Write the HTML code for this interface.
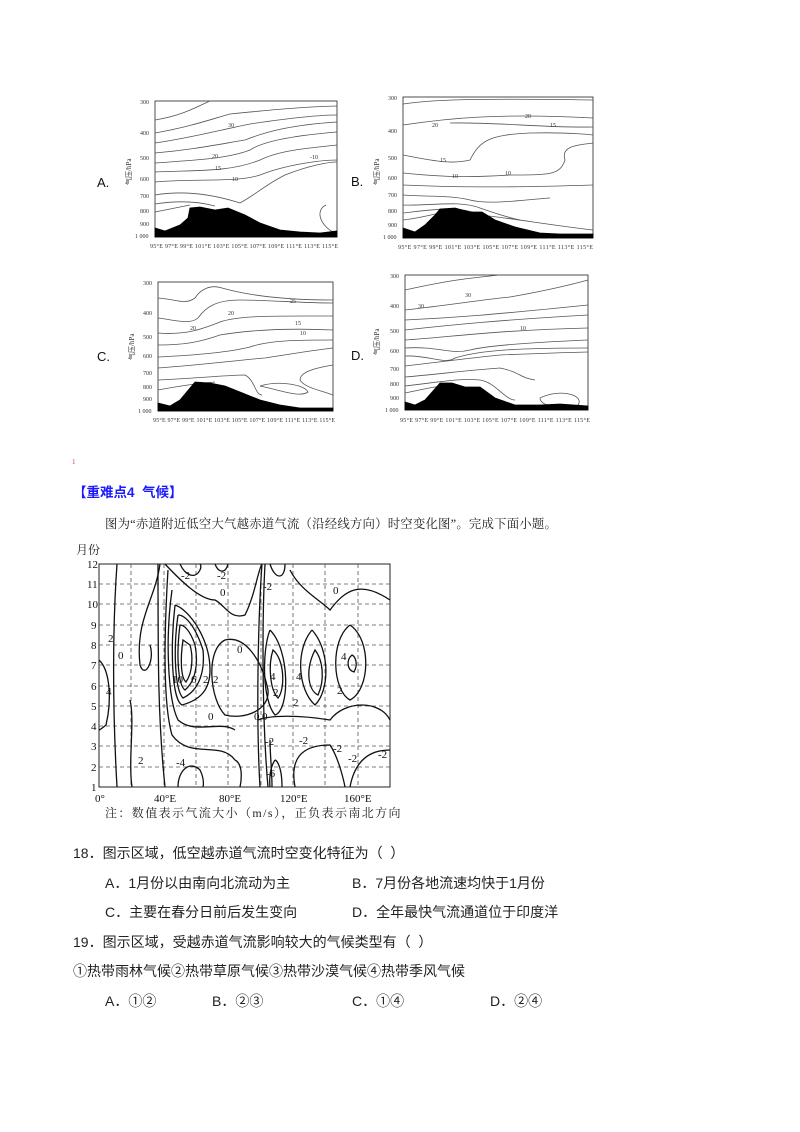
<!DOCTYPE html>
<html><head><meta charset="utf-8"><style>
body{margin:0;background:#fff;width:800px;height:1132px;position:relative;overflow:hidden;font-family:"Liberation Serif","Noto Serif CJK SC",serif;color:#222}
.t{position:absolute;white-space:nowrap;font-size:13px}
.q{font-size:14px;font-family:'Liberation Sans','Noto Sans CJK SC',sans-serif}
svg{position:absolute;left:0;top:0}
</style></head><body>
<svg width="800" height="1132" viewBox="0 0 800 1132" font-family="Liberation Serif, serif">
<g fill="none" stroke="#555" stroke-width="0.8">
<rect x="155" y="101" width="182" height="136" stroke="#222"/>
<path d="M155 120 C185 115 200 105 210 101"/>
<path d="M155 133 C190 127 215 118 230 114 C270 110 300 107 337 106"/>
<path d="M155 143 C190 138 220 130 250 124 C290 118 320 115 337 115"/>
<path d="M155 153 C190 150 215 145 245 140 C265 132 290 125 337 122"/>
<path d="M155 163 C200 160 230 158 250 150 C265 140 300 135 337 132"/>
<path d="M155 172 C200 170 230 172 260 160 C280 150 310 148 337 145"/>
<path d="M155 182 C200 178 235 183 260 175 C285 165 320 160 337 160"/>
<path d="M155 195 C185 190 215 195 240 203 C255 195 265 185 285 175 C310 165 330 162 337 162"/>
<path d="M155 204 C180 200 200 202 215 206"/>
<path d="M155 212 C175 208 185 206 190 205"/>
<path d="M326 205 C315 210 320 225 333 232"/>
<polygon fill="#000" stroke="#000" points="155,228 165,231 180,225 188,218 190,208 200,207 215,210 228,208 245,215 260,223 280,230 300,232 320,233 337,231 337,237 155,237"/>
<rect x="403" y="97" width="190" height="141" stroke="#222"/>
<path d="M403 104 C430 100 470 98 593 100"/>
<path d="M403 125 C450 118 500 113 593 118"/>
<path d="M450 123 C500 122 540 128 593 127"/>
<path d="M403 155 C430 160 450 165 470 160 C480 140 490 135 530 133 C570 132 593 135 593 135"/>
<path d="M403 173 C450 178 480 177 510 175 C550 175 560 175 565 160 C560 145 580 145 593 143"/>
<path d="M403 185 C450 187 500 188 593 185"/>
<path d="M403 195 C430 197 450 195 470 200 C490 205 520 200 550 198"/>
<path d="M403 205 C430 206 460 200 480 208 C500 215 510 218 520 220"/>
<path d="M403 213 C430 210 460 205 480 215 C510 218 550 225 593 230"/>
<path d="M403 220 C420 218 430 215 440 213"/>
<polygon fill="#000" stroke="#000" points="403,228 415,232 425,225 435,215 440,209 455,208 470,212 482,212 495,220 515,227 540,233 560,234 593,234 593,238 403,238"/>
<rect x="158" y="282" width="175" height="129" stroke="#222"/>
<path d="M158 298 C180 300 185 305 195 298 C200 290 210 284 222 288 C250 296 290 300 333 300"/>
<path d="M158 318 C175 320 190 325 198 318 C205 308 215 300 240 300 C270 300 300 303 333 303"/>
<path d="M158 333 C185 335 200 330 220 322 C240 315 280 316 333 316"/>
<path d="M158 345 C185 345 200 342 220 335 C250 330 290 328 333 330"/>
<path d="M158 357 C200 355 230 352 250 347 C270 340 300 340 333 340"/>
<path d="M158 368 C200 365 240 360 265 358 C290 354 315 350 333 348"/>
<path d="M158 380 C200 378 230 375 245 375 C255 380 255 395 262 395"/>
<path d="M158 390 C185 385 200 383 215 382"/>
<path d="M260 386 C280 390 300 398 308 392 C305 385 280 380 260 386"/>
<path d="M333 365 C315 368 300 372 300 380 C305 388 320 390 333 395"/>
<polygon fill="#000" stroke="#000" points="158,403 170,406 180,400 195,382 210,383 225,386 240,392 260,400 280,405 300,408 333,408 333,411 158,411"/>
<rect x="405" y="275" width="183" height="135" stroke="#222"/>
<path d="M405 290 C450 280 470 278 500 275"/>
<path d="M405 310 C450 305 480 300 510 297 C550 290 570 285 588 280"/>
<path d="M405 320 C450 318 490 315 588 305"/>
<path d="M405 330 C450 325 500 320 588 315"/>
<path d="M405 340 C450 337 500 330 588 328"/>
<path d="M405 348 C440 346 450 355 470 350 C490 345 540 342 588 340"/>
<path d="M405 356 C430 355 445 365 455 358 C480 350 520 348 588 348"/>
<path d="M405 366 C440 362 470 358 500 355 C550 353 588 352 588 352"/>
<path d="M405 377 C440 374 470 370 500 368 C520 372 520 378 535 380"/>
<path d="M405 386 C440 382 460 378 480 380 C495 382 505 400 515 400"/>
<path d="M405 393 C420 390 435 386 445 386"/>
<path d="M540 398 C560 388 585 395 578 405 C560 410 540 406 540 398"/>
<polygon fill="#000" stroke="#000" points="405,402 415,405 425,400 440,383 452,383 465,387 480,387 495,398 515,405 540,405 560,404 588,406 588,410 405,410"/>
</g>
<g font-size="6" fill="#333">
<text x="140" y="104">300</text><text x="140" y="135">400</text><text x="140" y="160">500</text><text x="140" y="181">600</text><text x="140" y="198">700</text><text x="140" y="213">800</text><text x="140" y="226">900</text><text x="135" y="238">1 000</text>
<text x="150" y="248" textLength="188">95°E 97°E 99°E 101°E 103°E 105°E 107°E 109°E 111°E 113°E 115°E</text>
<text x="388" y="100">300</text><text x="388" y="133">400</text><text x="388" y="160">500</text><text x="388" y="180">600</text><text x="388" y="197">700</text><text x="388" y="213">800</text><text x="388" y="227">900</text><text x="383" y="239">1 000</text>
<text x="398" y="249" textLength="195">95°E 97°E 99°E 101°E 103°E 105°E 107°E 109°E 111°E 113°E 115°E</text>
<text x="143" y="285">300</text><text x="143" y="315">400</text><text x="143" y="339">500</text><text x="143" y="358">600</text><text x="143" y="375">700</text><text x="143" y="389">800</text><text x="143" y="401">900</text><text x="138" y="413">1 000</text>
<text x="153" y="422" textLength="182">95°E 97°E 99°E 101°E 103°E 105°E 107°E 109°E 111°E 113°E 115°E</text>
<text x="390" y="278">300</text><text x="390" y="308">400</text><text x="390" y="333">500</text><text x="390" y="353">600</text><text x="390" y="371">700</text><text x="390" y="386">800</text><text x="390" y="400">900</text><text x="385" y="412">1 000</text>
<text x="400" y="422" textLength="190">95°E 97°E 99°E 101°E 103°E 105°E 107°E 109°E 111°E 113°E 115°E</text>
<text x="228" y="127">30</text><text x="212" y="158">20</text><text x="215" y="170">15</text><text x="232" y="181">10</text><text x="310" y="159">-10</text>
<text x="432" y="127">20</text><text x="525" y="118">20</text><text x="550" y="127">15</text><text x="440" y="162">15</text><text x="452" y="178">10</text><text x="505" y="175">10</text>
<text x="290" y="303">25</text><text x="228" y="315">20</text><text x="190" y="330">20</text><text x="295" y="325">15</text><text x="300" y="335">10</text>
<text x="465" y="297">30</text><text x="418" y="308">30</text><text x="520" y="330">10</text>
</g>
<g font-size="7" fill="#333" transform="rotate(-90)"><text x="-185" y="131">气压/hPa</text><text x="-185" y="379">气压/hPa</text><text x="-360" y="134">气压/hPa</text><text x="-355" y="379">气压/hPa</text></g>
<g font-family="Liberation Sans, sans-serif" font-size="13" fill="#111"><text x="97" y="187">A.</text><text x="351" y="186">B.</text><text x="97" y="361">C.</text><text x="351" y="360">D.</text></g>

<rect x="99" y="564" width="291" height="223" fill="none" stroke="#222" stroke-width="1"/>
<g stroke="#555" stroke-width="0.8" stroke-dasharray="4,3">
<line x1="131" y1="564" x2="131" y2="787"/><line x1="164" y1="564" x2="164" y2="787"/><line x1="196" y1="564" x2="196" y2="787"/><line x1="228" y1="564" x2="228" y2="787"/><line x1="261" y1="564" x2="261" y2="787"/><line x1="293" y1="564" x2="293" y2="787"/><line x1="325" y1="564" x2="325" y2="787"/><line x1="358" y1="564" x2="358" y2="787"/>
<line x1="99" y1="584" x2="390" y2="584"/><line x1="99" y1="604" x2="390" y2="604"/><line x1="99" y1="625" x2="390" y2="625"/><line x1="99" y1="645" x2="390" y2="645"/><line x1="99" y1="665" x2="390" y2="665"/><line x1="99" y1="686" x2="390" y2="686"/><line x1="99" y1="706" x2="390" y2="706"/><line x1="99" y1="726" x2="390" y2="726"/><line x1="99" y1="746" x2="390" y2="746"/><line x1="99" y1="767" x2="390" y2="767"/>
</g>
<g fill="none" stroke="#111" stroke-width="1.3">
<path d="M117 564 C113 620 112 700 117 787"/>
<path d="M99 660 C110 670 112 700 106 725 C100 730 99 730 99 730"/>
<path d="M160 564 C155 600 135 620 140 665 C145 680 155 660 150 645"/>
<path d="M132 787 C128 760 135 720 130 700"/>
<path d="M158 564 C158 660 158 720 165 787"/>
<path d="M168 570 C165 620 162 700 172 735 C190 760 220 740 235 760 C245 765 240 787 240 787"/>
<path d="M172 590 C165 640 168 700 178 720 C195 735 220 720 235 730"/>
<path d="M175 605 C170 650 172 700 182 705 C200 700 210 690 210 670 C210 640 190 610 175 605"/>
<path d="M178 615 C173 650 175 690 183 698 C200 690 205 670 203 650 C195 625 185 615 178 615"/>
<path d="M180 625 C176 655 178 685 185 690 C197 680 198 660 195 645 C190 630 184 625 180 625"/>
<path d="M183 640 C180 660 181 678 186 682 C193 672 193 655 190 645 Z"/>
<path d="M165 564 C180 580 200 600 215 600 C225 605 230 620 245 615 C255 595 258 570 262 564"/>
<path d="M180 564 C185 575 195 580 200 570 C202 566 200 564 200 564"/>
<path d="M215 564 C218 572 225 575 228 564"/>
<path d="M262 564 C258 620 256 720 260 787"/>
<path d="M265 564 C262 620 262 720 268 787"/>
<path d="M270 564 C275 580 285 580 285 564"/>
<path d="M258 720 C270 715 300 715 330 720 C345 700 380 700 390 720"/>
<path d="M225 640 C205 650 210 700 225 715 C245 720 270 710 268 690 C262 660 245 635 225 640"/>
<path d="M270 630 C262 650 262 700 275 715 C290 710 290 650 270 630"/>
<path d="M273 650 C268 665 270 690 278 698 C285 690 285 660 273 650 Z"/>
<path d="M312 630 C295 650 298 690 315 705 C330 690 330 650 312 630"/>
<path d="M315 650 C305 670 308 690 318 695 C325 680 323 660 315 650 Z"/>
<path d="M350 625 C330 640 332 690 350 700 C370 690 372 640 350 625"/>
<path d="M352 655 C346 660 347 670 354 672 C358 665 356 657 352 655 Z"/>
<path d="M290 570 C300 590 320 600 330 610 C345 590 360 580 390 600"/>
<path d="M270 740 C270 755 272 770 272 787"/>
<path d="M275 760 C268 770 270 787 270 787 M282 787 C282 765 276 760 275 760"/>
<path d="M295 787 C290 760 300 745 330 745 C340 760 345 787 345 787"/>
<path d="M350 787 C355 760 370 750 390 750"/>
<path d="M178 787 C178 770 190 760 200 770 C205 780 203 787 203 787"/>
</g>
<g font-size="11" fill="#111">
<text x="87" y="568">12</text><text x="87" y="588">11</text><text x="87" y="608">10</text><text x="91" y="629">9</text><text x="91" y="649">8</text><text x="91" y="669">7</text><text x="91" y="690">6</text><text x="91" y="710">5</text><text x="91" y="730">4</text><text x="91" y="750">3</text><text x="91" y="771">2</text><text x="91" y="791">1</text>
<text x="95" y="802">0°</text><text x="154" y="802">40°E</text><text x="219" y="802">80°E</text><text x="280" y="802">120°E</text><text x="344" y="802">160°E</text>
<text x="181" y="579">-2</text><text x="217" y="579">-2</text><text x="220" y="596">0</text><text x="263" y="590">-2</text><text x="333" y="594">0</text>
<text x="108" y="642">2</text><text x="118" y="659">0</text><text x="106" y="695">4</text>
<text x="172" y="683">10</text><text x="191" y="683">6</text><text x="203" y="683">2</text><text x="213" y="683">2</text>
<text x="237" y="653">0</text><text x="208" y="720">0</text><text x="254" y="720">0</text><text x="262" y="720">0</text>
<text x="270" y="680">4</text><text x="273" y="696">2</text><text x="296" y="680">4</text><text x="293" y="706">2</text>
<text x="341" y="660">4</text><text x="337" y="694">2</text>
<text x="265" y="745">-2</text><text x="299" y="744">-2</text><text x="333" y="752">-2</text><text x="348" y="762">-2</text><text x="378" y="758">-2</text>
<text x="138" y="764">2</text><text x="176" y="766">-4</text><text x="266" y="777">-6</text>
</g>
</svg>
<div class="t" style="left:72px;top:458px;font-size:7px;color:#e33">1</div>
<div class="t" style="left:73px;top:481px;font-size:13.5px;font-weight:bold;color:#1a1aff;font-family:'Liberation Sans','Noto Sans CJK SC',sans-serif">【重难点4 &nbsp;气候】</div>
<div class="t" style="left:105px;top:514px;font-size:12.4px;letter-spacing:0.2px">图为“赤道附近低空大气越赤道气流（沿经线方向）时空变化图”。完成下面小题。</div>
<div class="t" style="left:76px;top:541px;font-size:12px">月份</div>
<div class="t" style="left:105px;top:804px;font-size:12px;letter-spacing:1.4px">注：数值表示气流大小（m/s），正负表示南北方向</div>
<div class="t q" style="left:73px;top:843px">18．图示区域，低空越赤道气流时空变化特征为（ &nbsp;）</div>
<div class="t q" style="left:105px;top:873px">A．1月份以由南向北流动为主</div>
<div class="t q" style="left:352px;top:873px">B．7月份各地流速均快于1月份</div>
<div class="t q" style="left:105px;top:902px">C．主要在春分日前后发生变向</div>
<div class="t q" style="left:352px;top:902px">D．全年最快气流通道位于印度洋</div>
<div class="t q" style="left:73px;top:932px">19．图示区域，受越赤道气流影响较大的气候类型有（ &nbsp;）</div>
<div class="t q" style="left:73px;top:961px">①热带雨林气候②热带草原气候③热带沙漠气候④热带季风气候</div>
<div class="t q" style="left:105px;top:991px">A．①②</div>
<div class="t q" style="left:212px;top:991px">B．②③</div>
<div class="t q" style="left:352px;top:991px">C．①④</div>
<div class="t q" style="left:490px;top:991px">D．②④</div>
</body></html>
